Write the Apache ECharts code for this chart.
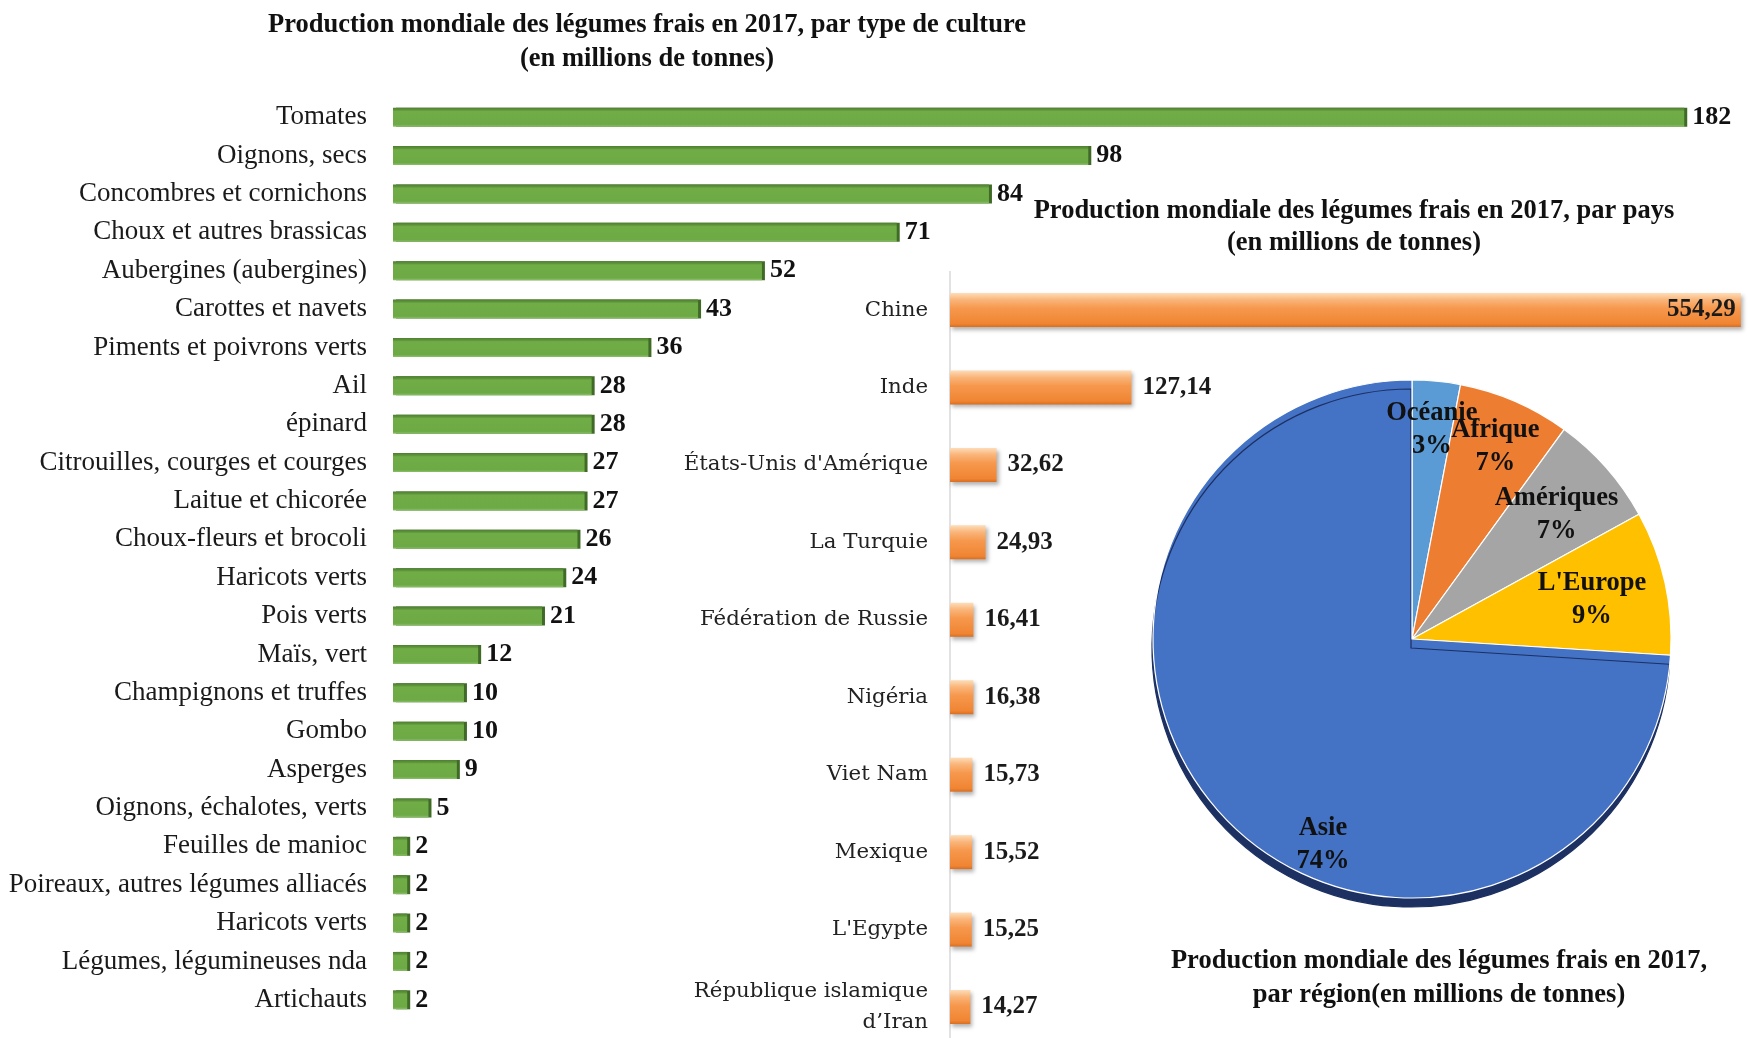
<!DOCTYPE html>
<html>
<head>
<meta charset="utf-8">
<script src="https://cdn.jsdelivr.net/npm/echarts@6/dist/echarts.min.js"></script>
<style>
  html, body { margin: 0; padding: 0; background: #fff; }
  #chart { width: 1749px; height: 1038px; }
</style>
</head>
<body>
<div id="chart"></div>
<script>
// Production par type de culture (millions de tonnes)
const cultures = [
  'Tomates', 'Oignons, secs', 'Concombres et cornichons', 'Choux et autres brassicas',
  'Aubergines (aubergines)', 'Carottes et navets', 'Piments et poivrons verts', 'Ail',
  'épinard', 'Citrouilles, courges et courges', 'Laitue et chicorée', 'Choux-fleurs et brocoli',
  'Haricots verts', 'Pois verts', 'Maïs, vert', 'Champignons et truffes', 'Gombo', 'Asperges',
  'Oignons, échalotes, verts', 'Feuilles de manioc', 'Poireaux, autres légumes alliacés',
  'Haricots verts', 'Légumes, légumineuses nda', 'Artichauts'
];
const culturesValues = [182, 98, 84, 71, 52, 43, 36, 28, 28, 27, 27, 26, 24, 21, 12, 10, 10, 9, 5, 2, 2, 2, 2, 2];

// Production par pays (millions de tonnes)
const pays = [
  'Chine', 'Inde', "États-Unis d'Amérique", 'La Turquie', 'Fédération de Russie',
  'Nigéria', 'Viet Nam', 'Mexique', "L'Egypte", 'République islamique\nd’Iran'
];
const paysValues = [554.29, 127.14, 32.62, 24.93, 16.41, 16.38, 15.73, 15.52, 15.25, 14.27];

// Répartition par région (%)
const regions = ['Océanie', 'Afrique', 'Amériques', "L'Europe", 'Asie'];
const regionsValues = [3, 7, 7, 9, 74];
const regionColors = ['#5B9BD5', '#ED7D31', '#A5A5A5', '#FFC000', '#4472C4'];

const fmtFr = v => String(v).replace('.', ',');
const SERIF = '"Liberation Serif", "Times New Roman", serif';

const chart = echarts.init(document.getElementById('chart'), null, { renderer: 'canvas' });

const pieData = regions.map((name, i) => ({
  name,
  value: regionsValues[i],
  itemStyle: name === 'Asie'
    ? { color: regionColors[i], shadowColor: 'rgba(28,48,98,1)', shadowBlur: 0, shadowOffsetY: 9, shadowOffsetX: -1 }
    : { color: regionColors[i] }
}));

// small nudges for the slice labels
const labelNudge = {
  'Amériques': { dx: -13, dy: 15 },
  "L'Europe": { dx: -25, dy: 6 },
  'Asie': { dx: 64, dy: 62 }
};

const titleText = (x, y, text, size, lh) => ({
  type: 'text', x, y, silent: true,
  style: {
    text, fill: '#111', fontFamily: SERIF,
    fontWeight: 'bold', fontSize: size, lineHeight: lh,
    align: 'center', verticalAlign: 'top'
  }
});

chart.setOption({
  backgroundColor: '#ffffff',
  animation: false,
  graphic: [
    titleText(647, 8, 'Production mondiale des légumes frais en 2017, par type de culture\n(en millions de tonnes)', 26.5, 34),
    titleText(1354, 195, 'Production mondiale des légumes frais en 2017, par pays\n(en millions de tonnes)', 26.5, 32),
    titleText(1439, 944, 'Production mondiale des légumes frais en 2017,\npar région(en millions de tonnes)', 26.5, 34),
    // vertical base line of the country chart
    {
      type: 'line', silent: true, z: 0,
      shape: { x1: 950, y1: 271, x2: 950, y2: 1038 },
      style: { stroke: '#d9d9d9', lineWidth: 1.5 }
    }
  ],
  grid: [
    { left: 393, top: 98, width: 1348, height: 921 },
    { left: 950, top: 310, width: 810, height: 700 }
  ],
  xAxis: [
    { gridIndex: 0, type: 'value', min: 0, max: 190, show: false },
    { gridIndex: 1, type: 'value', min: 0, max: 560, show: false }
  ],
  yAxis: [
    {
      gridIndex: 0, type: 'category', data: cultures, inverse: true,
      axisLine: { show: false }, axisTick: { show: false },
      axisLabel: { margin: 26, color: '#1a1a1a', fontSize: 27, fontFamily: SERIF }
    },
    {
      gridIndex: 1, type: 'category', data: pays, inverse: true, boundaryGap: false,
      axisLine: { show: false }, axisTick: { show: false },
      axisLabel: {
        margin: 22, color: '#222', fontSize: 21.3, lineHeight: 31,
        fontFamily: '"DejaVu Serif", serif'
      }
    }
  ],
  series: [
    {
      type: 'bar', xAxisIndex: 0, yAxisIndex: 0, data: culturesValues,
      barWidth: 19,
      itemStyle: {
        color: new echarts.graphic.LinearGradient(0, 0, 0, 1, [
          { offset: 0, color: '#4F7F31' }, { offset: 0.12, color: '#5E943B' },
          { offset: 0.2, color: '#70AD47' }, { offset: 0.88, color: '#6DAA45' },
          { offset: 1, color: '#8CC06A' }
        ]),
        shadowColor: '#3F6B27', shadowBlur: 0, shadowOffsetX: 3, shadowOffsetY: 0
      },
      label: {
        show: true, position: 'right', distance: 8, color: '#111',
        fontFamily: SERIF, fontWeight: 'bold', fontSize: 26
      }
    },
    {
      type: 'bar', xAxisIndex: 1, yAxisIndex: 1,
      data: paysValues.map((v, i) => i === 0
        ? { value: v, label: { position: 'insideRight', distance: 5 } }
        : v),
      barWidth: 34,
      itemStyle: {
        color: new echarts.graphic.LinearGradient(0, 0, 0, 1, [
          { offset: 0, color: '#FDDDB9' }, { offset: 0.2, color: '#FAB57A' },
          { offset: 0.45, color: '#F6984D' }, { offset: 0.9, color: '#F08533' },
          { offset: 1, color: '#D86E22' }
        ]),
        shadowColor: 'rgba(0,0,0,0.3)', shadowBlur: 4, shadowOffsetX: 2, shadowOffsetY: 3
      },
      label: {
        show: true, position: 'right', distance: 11, color: '#1a1a1a',
        fontFamily: SERIF, fontWeight: 'bold', fontSize: 25,
        formatter: p => fmtFr(p.value)
      }
    },
    {
      type: 'pie', center: [1412, 639], radius: [0, 259],
      startAngle: 90, clockwise: true, silent: true, z: 2,
      data: pieData,
      itemStyle: { borderColor: '#ffffff', borderWidth: 1.2 },
      label: { show: false }, labelLine: { show: false }
    },
    {
      // ring carrying the slice labels, so they sit near the outer edge
      type: 'pie', center: [1412, 639], radius: [155, 259],
      startAngle: 90, clockwise: true, silent: true, z: 3,
      percentPrecision: 0,
      data: regions.map((name, i) => ({ name, value: regionsValues[i] })),
      itemStyle: { color: 'rgba(0,0,0,0)', borderWidth: 0 },
      label: {
        show: true, position: 'inside', formatter: '{b}\n{d}%',
        color: '#111', fontFamily: SERIF, fontWeight: 'bold', fontSize: 26.5, lineHeight: 33
      },
      labelLine: { show: false },
      labelLayout: p => labelNudge[regions[p.dataIndex]] || {}
    }
  ]
});
</script>
</body>
</html>
